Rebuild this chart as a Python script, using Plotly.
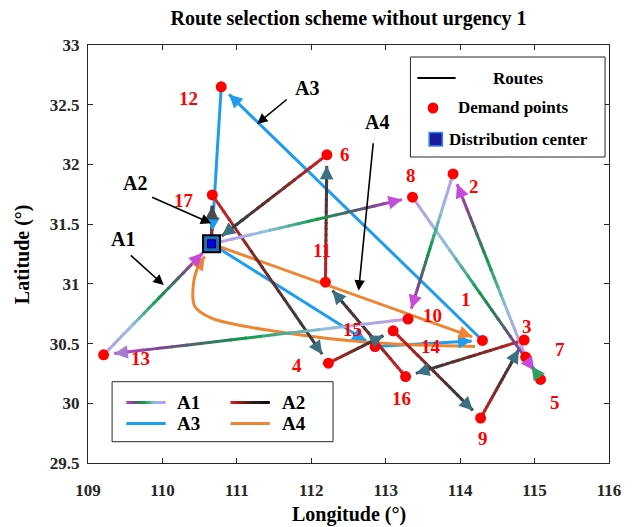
import numpy as np
import plotly.graph_objects as go

# ---------------- data ----------------
node_names = ["DC", "1", "2", "3", "4", "5", "6", "7", "8", "9", "10",
              "11", "12", "13", "14", "15", "16", "17"]
node_lon = [110.66, 114.30, 113.905, 114.86, 112.23, 115.08, 112.21, 114.88,
            113.36, 114.275, 113.30, 112.19, 110.79, 109.21, 113.10, 112.857,
            113.267, 110.67]
node_lat = [31.335, 30.526, 31.92, 30.53, 30.336, 30.20, 32.08, 30.387,
            31.726, 29.876, 30.705, 31.014, 32.65, 30.406, 30.607, 30.475,
            30.224, 31.745]

route_A1 = [0, 8, 5, 7, 2, 10, 13, 0]
route_A2 = [0, 17, 4, 14, 9, 3, 16, 11, 6, 0]
route_A3 = [0, 15, 1, 12, 0]
route_A4 = [0, 1]
a4_return_lon = [114.20, 112.857, 111.536, 110.651, 110.436, 110.413, 110.480, 110.568]
a4_return_lat = [30.476, 30.506, 30.601, 30.715, 30.810, 30.977, 31.145, 31.228]

x_ticks = [109, 110, 111, 112, 113, 114, 115, 116]
y_ticks = [29.5, 30, 30.5, 31, 31.5, 32, 32.5, 33]

# ---------------- layout geometry / styles ----------------
W, H = 633, 527
L, R, T, B = 88, 15, 45, 64
pw, ph = W - L - R, H - T - B
XR, YR = [109, 116], [29.5, 33]
sx = pw / (XR[1] - XR[0])
sy = ph / (YR[1] - YR[0])
FONT = "Liberation Serif, Times New Roman, serif"

A1_stops = [(0.0, (195, 150, 230)), (0.28, (145, 190, 225)), (0.55, (15, 155, 75)),
            (0.8, (100, 80, 120)), (1.0, (205, 60, 220))]
A2_stops = [(0.0, (210, 35, 35)), (0.45, (115, 42, 42)), (0.8, (62, 58, 60)),
            (1.0, (58, 60, 66))]
A1_head = ["#C04FD8", "#C84ADB", "#2BA060", "#C84ADB", "#C84ADB", "#A77BD0", "#C84ADB"]
A2_head = ["#454C52"] + ["#3C7080"] * 8
BLUE = "#1E9CF0"
ORANGE = "#EE8533"


def to_px(lon, lat):
    return L + (lon - XR[0]) * sx, T + (YR[1] - lat) * sy


def to_data(px, py):
    return XR[0] + (px - L) / sx, YR[1] - (py - T) / sy


def cmap(stops, t):
    for (t0, c0), (t1, c1) in zip(stops[:-1], stops[1:]):
        if t <= t1:
            f = (t - t0) / (t1 - t0) if t1 > t0 else 0
            c = [round(a + (b - a) * f) for a, b in zip(c0, c1)]
            return "rgb(%d,%d,%d)" % tuple(c)
    return "rgb(%d,%d,%d)" % stops[-1][1]


def standoff(idx):
    return 13 if idx == 0 else 11


fig = go.Figure()
annotations = []
shapes = []


def head(ex, ey, ux, uy, color, width=3, size=0.9):
    lon, lat = to_data(ex, ey)
    annotations.append(dict(x=lon, y=lat, xref="x", yref="y", text="",
                            showarrow=True, ax=-ux * 14, ay=-uy * 14,
                            arrowhead=2, arrowsize=size, arrowwidth=width,
                            arrowcolor=color))


def seg_geom(a, b):
    px, py = to_px(node_lon[a], node_lat[a])
    qx, qy = to_px(node_lon[b], node_lat[b])
    d = np.hypot(qx - px, qy - py)
    ux, uy = (qx - px) / d, (qy - py) / d
    s = standoff(b)
    return px, py, qx - ux * s, qy - uy * s, ux, uy


def gradient_route(route, stops, heads, M=20):
    bins_x = [[] for _ in range(M)]
    bins_y = [[] for _ in range(M)]
    for k, (a, b) in enumerate(zip(route[:-1], route[1:])):
        px, py, ex, ey, ux, uy = seg_geom(a, b)
        ts = np.linspace(0, 1, M + 1)
        xs = px + (ex - px) * ts
        ys = py + (ey - py) * ts
        for i in range(M):
            ext = 2.0 if i < M - 1 else 0.0  # overlap to hide seams
            lo0, la0 = to_data(xs[i], ys[i])
            lo1, la1 = to_data(xs[i + 1] + ux * ext, ys[i + 1] + uy * ext)
            bins_x[i] += [lo0, lo1, None]
            bins_y[i] += [la0, la1, None]
        head(ex, ey, ux, uy, heads[k])
    for i in range(M):
        fig.add_trace(go.Scatter(x=bins_x[i], y=bins_y[i], mode="lines",
                                 line=dict(color=cmap(stops, (i + 0.5) / M), width=3),
                                 hoverinfo="skip", showlegend=False))


def plain_route(route, color):
    xs, ys = [], []
    for a, b in zip(route[:-1], route[1:]):
        px, py, ex, ey, ux, uy = seg_geom(a, b)
        lo0, la0 = to_data(px, py)
        lo1, la1 = to_data(ex, ey)
        xs += [lo0, lo1, None]
        ys += [la0, la1, None]
        head(ex, ey, ux, uy, color)
    fig.add_trace(go.Scatter(x=xs, y=ys, mode="lines", line=dict(color=color, width=3),
                             hoverinfo="skip", showlegend=False))


# A3 and A4 first (underneath)
plain_route(route_A3, BLUE)
plain_route(route_A4, ORANGE)
fig.add_trace(go.Scatter(x=a4_return_lon, y=a4_return_lat, mode="lines",
                         line=dict(color=ORANGE, width=3, shape="spline", smoothing=1.0),
                         hoverinfo="skip", showlegend=False))
p1 = to_px(a4_return_lon[-2], a4_return_lat[-2])
p2 = to_px(a4_return_lon[-1], a4_return_lat[-1])
dd = np.hypot(p2[0] - p1[0], p2[1] - p1[1])
head(p2[0], p2[1], (p2[0] - p1[0]) / dd, (p2[1] - p1[1]) / dd, ORANGE)

gradient_route(route_A2, A2_stops, A2_head)
gradient_route(route_A1, A1_stops, A1_head)

# demand points
fig.add_trace(go.Scatter(x=node_lon[1:], y=node_lat[1:], mode="markers",
                         marker=dict(color="#FF0000", size=11, line=dict(width=0)),
                         hoverinfo="skip", showlegend=False))
# distribution center
fig.add_trace(go.Scatter(x=[node_lon[0]], y=[node_lat[0]], mode="markers",
                         marker=dict(symbol="square", color="#1F6FC0", size=17,
                                     line=dict(color="black", width=2)),
                         hoverinfo="skip", showlegend=False))
fig.add_trace(go.Scatter(x=[node_lon[0]], y=[node_lat[0]], mode="markers",
                         marker=dict(symbol="square", color="#0000FF", size=8,
                                     line=dict(color="black", width=1)),
                         hoverinfo="skip", showlegend=False))

# point labels (pixel offsets)
label_off = {1: (-16, -41), 2: (21, 13), 3: (3, -13), 4: (-31, 2), 5: (14, 23),
             6: (18, 0), 7: (34, -8), 8: (-2, -22), 9: (2, 20), 10: (24, -4),
             11: (-3, -32), 12: (-33, 12), 13: (37, 4), 14: (38, 16), 15: (-23, -17),
             16: (-4, 22), 17: (-28, 6)}
for i in range(1, len(node_names)):
    dx, dy = label_off[i]
    annotations.append(dict(x=node_lon[i], y=node_lat[i], xref="x", yref="y",
                            text=node_names[i], showarrow=False, xshift=dx, yshift=-dy,
                            font=dict(family=FONT, size=19, color="#FF0000", weight="bold")))

# black pointer annotations
pointers = [("A3", (111.945, 32.64), (111.69, 32.554), (111.272, 32.339)),
            ("A2", (109.634, 31.845), (109.841, 31.730), (110.655, 31.507)),
            ("A1", (109.475, 31.376), (109.555, 31.25), (110.017, 30.99)),
            ("A4", (112.883, 32.355), (112.834, 32.19), (112.636, 30.943))]
for name, txt, tail, tip in pointers:
    annotations.append(dict(x=txt[0], y=txt[1], xref="x", yref="y", text=name,
                            showarrow=False,
                            font=dict(family=FONT, size=20, color="black", weight="bold")))
    annotations.append(dict(x=tip[0], y=tip[1], xref="x", yref="y", ax=tail[0], ay=tail[1],
                            axref="x", ayref="y", text="", showarrow=True, arrowhead=2,
                            arrowsize=1.3, arrowwidth=1.6, arrowcolor="black"))


def PX(px):
    return (px - L) / pw


def PY(py):
    return (H - B - py) / ph


def rect(x0, y0, x1, y1, **kw):
    shapes.append(dict(type="rect", xref="paper", yref="paper", x0=PX(x0), x1=PX(x1),
                       y0=PY(y1), y1=PY(y0), **kw))


def grad_line(x0, x1, y, stops, n=12, width=3):
    for i in range(n):
        xa = x0 + (x1 - x0) * i / n
        xb = x0 + (x1 - x0) * (i + 1) / n + (1.5 if i < n - 1 else 0)
        shapes.append(dict(type="line", xref="paper", yref="paper", x0=PX(xa), x1=PX(xb),
                           y0=PY(y), y1=PY(y),
                           line=dict(color=cmap(stops, (i + 0.5) / n), width=width)))


def text(px, py, s, size, anchor="center", color="black"):
    annotations.append(dict(x=PX(px), y=PY(py), xref="paper", yref="paper", text=s,
                            showarrow=False, xanchor=anchor, yanchor="middle",
                            font=dict(family=FONT, size=size, color=color, weight="bold")))


# top-right legend
rect(416, 57, 614, 157, line=dict(color="#262626", width=1), fillcolor="white")
shapes.append(dict(type="line", xref="paper", yref="paper", x0=PX(423), x1=PX(462),
                   y0=PY(78), y1=PY(78), line=dict(color="black", width=2)))
shapes.append(dict(type="circle", xref="paper", yref="paper", x0=PX(433.5), x1=PX(444.5),
                   y0=PY(113.5), y1=PY(102.5), fillcolor="#FF0000", line=dict(width=0)))
rect(435, 132.5, 448.5, 146, fillcolor="#1C1CA0", line=dict(color="#3A8BE0", width=1.5))
text(525, 78, "Routes", 17)
text(520.5, 108, "Demand points", 17)
text(526, 139, "Distribution center", 17)

# bottom-left legend
rect(112.5, 381.7, 337.3, 441.7, line=dict(color="#262626", width=1), fillcolor="white")
A1_leg = [(1 - t, c) for t, c in A1_stops[::-1]]
grad_line(127, 167, 402.5, A1_leg)
grad_line(233, 273, 402.5, [(0.0, (215, 30, 30)), (0.5, (70, 25, 25)), (1.0, (10, 10, 10))])
shapes.append(dict(type="line", xref="paper", yref="paper", x0=PX(127), x1=PX(167),
                   y0=PY(423.5), y1=PY(423.5), line=dict(color=BLUE, width=3)))
shapes.append(dict(type="line", xref="paper", yref="paper", x0=PX(233), x1=PX(273),
                   y0=PY(423.5), y1=PY(423.5), line=dict(color=ORANGE, width=3)))
text(177, 402.5, "A1", 19, "left")
text(283, 402.5, "A2", 19, "left")
text(177, 423.5, "A3", 19, "left")
text(283, 423.5, "A4", 19, "left")

# axis titles
text(353, 514, "Longitude (°)", 20)
annotations.append(dict(x=PX(21), y=PY(254), xref="paper", yref="paper",
                        text="Latitude (°)", showarrow=False, textangle=-90,
                        xanchor="center", yanchor="middle",
                        font=dict(family=FONT, size=20, color="black", weight="bold")))

axis_common = dict(showline=True, mirror="ticks", ticks="inside", ticklen=5,
                   linecolor="#262626", tickcolor="#262626", linewidth=1,
                   showgrid=False, zeroline=False,
                   tickfont=dict(family=FONT, size=17, color="#262626", weight="bold"))

fig.update_layout(
    width=W, height=H, margin=dict(l=L, r=R, t=T, b=B),
    paper_bgcolor="white", plot_bgcolor="white",
    title=dict(text="Route selection scheme without urgency 1", x=0.5, xref="paper",
               xanchor="center", y=1 - 18 / H, yref="container", yanchor="middle",
               font=dict(family=FONT, size=20, color="black", weight="bold")),
    xaxis=dict(range=XR, tickvals=x_ticks, ticktext=[str(v) for v in x_ticks],
               ticklabelstandoff=12, **axis_common),
    yaxis=dict(range=YR, tickvals=y_ticks, ticktext=[("%g" % v) for v in y_ticks],
               ticklabelstandoff=4, **axis_common),
    annotations=annotations, shapes=shapes, showlegend=False,
)

fig.write_html("out.html")
